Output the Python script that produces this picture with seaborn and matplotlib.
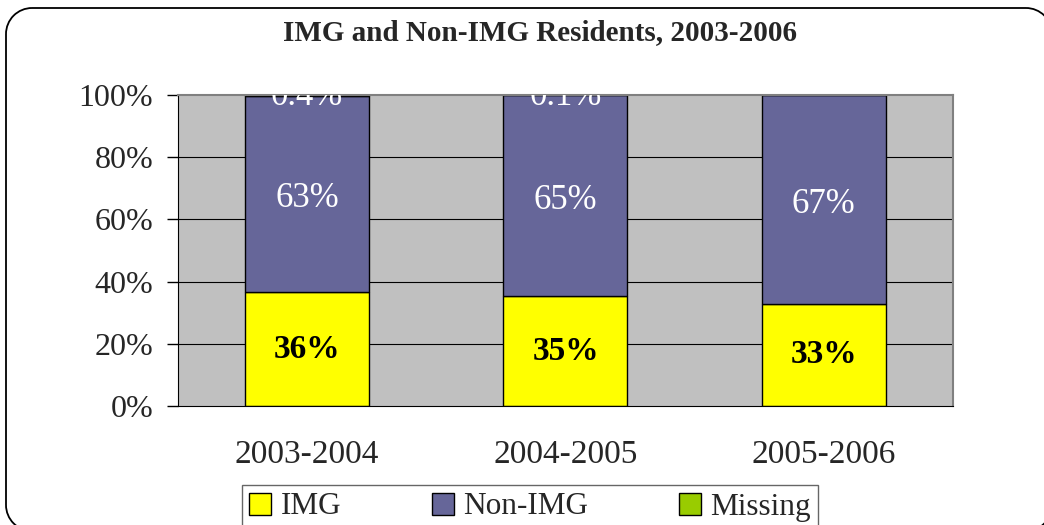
import numpy as np
import pandas as pd
import matplotlib
matplotlib.use('Agg')
import matplotlib.pyplot as plt
import seaborn as sns
from matplotlib.patches import Arc, Patch

years = ['2003-2004', '2004-2005', '2005-2006']
img = [36.6, 35.3, 32.8]
non_img = [63.0, 64.6, 67.2]
missing = [0.4, 0.1, 0.0]
img_labels = ['36%', '35%', '33%']
non_labels = ['63%', '65%', '67%']
miss_labels = ['0.4%', '0.1%', '']

sns.set_style('white')
plt.rcParams['font.family'] = ['Liberation Serif', 'DejaVu Serif']

fig = plt.figure(figsize=(10.44, 5.25), dpi=100)

# rounded frame drawn in pixel coordinates (y up)
bg = fig.add_axes([0, 0, 1, 1])
bg.set_xlim(0, 1044)
bg.set_ylim(0, 525)
bg.axis('off')
L, R, T, B, r = 6, 1052, 517, -6, 26
kw = dict(color='black', lw=1.3, solid_capstyle='butt')
bg.plot([L + r, R - r], [T, T], **kw)
bg.plot([L + r, R - r], [B, B], **kw)
bg.plot([L, L], [B + r, T - r], **kw)
bg.plot([R, R], [B + r, T - r], **kw)
for cx, cy, a in [(L + r, T - r, 90), (R - r, T - r, 0), (L + r, B + r, 180), (R - r, B + r, 270)]:
    bg.add_patch(Arc((cx, cy), 2 * r, 2 * r, theta1=a, theta2=a + 90, color='black', lw=1.3))

ax = fig.add_axes([178/1044, 1-406/525, (953-178)/1044, (406-95)/525])
ax.set_facecolor('#C0C0C0')

df = pd.DataFrame({'year': years, 'img': img, 'non': non_img, 'miss': missing})
bot2 = df['img'] + df['non']

sns.barplot(data=df, x='year', y='img', color='#FFFF00', edgecolor='black',
            linewidth=1, width=0.48, saturation=1, ax=ax, zorder=3)
sns.barplot(data=df, x='year', y='non', bottom=df['img'], color='#666699',
            edgecolor='black', linewidth=1, width=0.48, saturation=1, ax=ax, zorder=3)
sns.barplot(data=df, x='year', y='miss', bottom=bot2, color='#99CC00',
            edgecolor='black', linewidth=1, width=0.48, saturation=1, ax=ax, zorder=3)

for i in range(3):
    ax.text(i, img[i] / 2, img_labels[i], ha='center', va='center',
            fontsize=24, fontweight='bold', color='black', zorder=5)
    ax.text(i, img[i] + non_img[i] / 2 - 1.5, non_labels[i], ha='center', va='center',
            fontsize=25, color='white', zorder=5)
    if miss_labels[i]:
        ax.text(i, 99.6, miss_labels[i], ha='center', va='center',
                fontsize=25, color='white', zorder=5, clip_on=True)

ax.set_xlim(-0.5, 2.5)
ax.set_ylim(0, 100)
ax.set_yticks(np.arange(0, 101, 20))
ax.set_yticklabels([f'{v}%' for v in range(0, 101, 20)], fontsize=23)
ax.set_xticks([0, 1, 2])
ax.set_xticklabels(years, fontsize=24)
ax.set_xticks([-0.5, 0.5, 1.5, 2.5], minor=True)
ax.tick_params(axis='x', which='major', length=0, pad=24)
ax.tick_params(axis='x', which='minor', length=8, width=1, direction='out', color='black')
ax.tick_params(axis='y', length=8, width=1, direction='out', color='black', left=True, pad=10)
ax.set_xlabel('')
ax.set_ylabel('')

for y in range(20, 100, 20):
    ax.axhline(y, color='black', lw=0.8, zorder=1)

for s in ['top', 'right']:
    ax.spines[s].set_color('#808080')
    ax.spines[s].set_linewidth(1.5)
ax.spines['left'].set_color('black')
ax.spines['bottom'].set_color('black')
for s in ax.spines.values():
    s.set_zorder(4)

fig.text(540/1044, 1-33/525, 'IMG and Non-IMG Residents, 2003-2006', ha='center',
         va='center', fontsize=21, fontweight='bold')

handles = [Patch(facecolor='#FFFF00', edgecolor='black', label='IMG'),
           Patch(facecolor='#666699', edgecolor='black', label='Non-IMG'),
           Patch(facecolor='#99CC00', edgecolor='black', label='Missing')]
leg = fig.legend(handles=handles, loc='center', bbox_to_anchor=(530/1044, 1-507/525),
                 ncol=3, fontsize=22.5, frameon=True, fancybox=False,
                 handlelength=0.7, handleheight=0.7, handletextpad=0.3,
                 columnspacing=2.9, borderpad=0.25)
leg.get_frame().set_edgecolor('#404040')
leg.get_frame().set_linewidth(1)

fig.savefig('out.png', dpi=100)
